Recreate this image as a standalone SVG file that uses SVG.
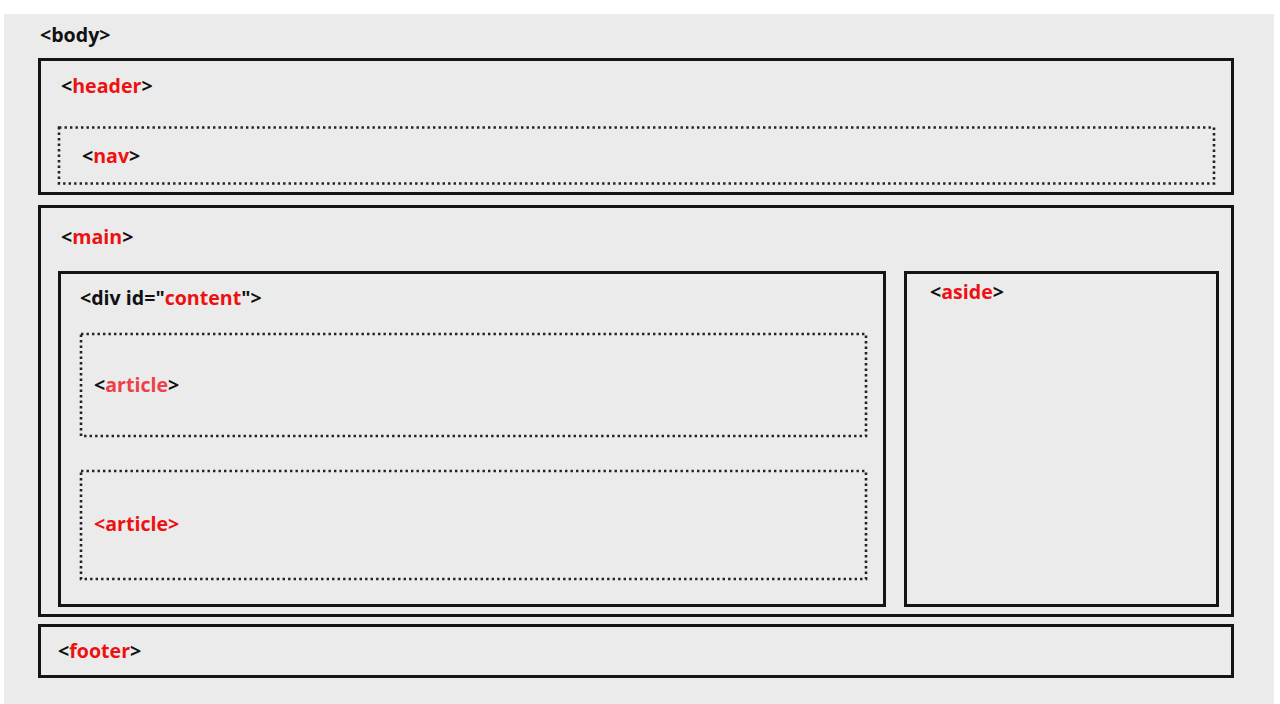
<svg xmlns="http://www.w3.org/2000/svg" width="1280" height="704" viewBox="0 0 1280 704">
  <style>
    .solid { fill: none; stroke: #141414; stroke-width: 3; }
    .dotted { fill: none; stroke: #222; stroke-width: 2.6; stroke-dasharray: 2.4 3.1; }
    .tag { font-family: "Open Sans", "Liberation Sans", sans-serif; font-weight: 700; font-size: 19.6px; fill: #111; }
    .red { fill: #ee1111; }
    .pink { fill: #ee3f4a; }
  </style>
  <rect x="0" y="0" width="1280" height="704" fill="#ffffff"/>
  <rect id="body" x="4" y="14" width="1270" height="690" fill="#ebebeb"/>
  <text class="tag" x="40" y="42">&lt;body&gt;</text>

  <g id="header">
    <rect class="solid" x="39.5" y="59.5" width="1193" height="134"/>
    <text class="tag" x="61" y="93">&lt;<tspan class="red">header</tspan>&gt;</text>
  </g>
  <g id="nav">
    <rect class="dotted" x="59" y="127.5" width="1155" height="56"/>
    <text class="tag" x="82" y="163">&lt;<tspan class="red">nav</tspan>&gt;</text>
  </g>

  <g id="main">
    <rect class="solid" x="39.5" y="206.5" width="1193" height="409"/>
    <text class="tag" x="61" y="244">&lt;<tspan class="red">main</tspan>&gt;</text>
  </g>
  <g id="content">
    <rect class="solid" x="59.5" y="272.5" width="825" height="333"/>
    <text class="tag" x="80" y="305">&lt;div id="<tspan class="red">content</tspan>"&gt;</text>
  </g>
  <g id="article1">
    <rect class="dotted" x="81" y="334" width="785" height="102"/>
    <text class="tag" x="94" y="392">&lt;<tspan class="pink">article</tspan>&gt;</text>
  </g>
  <g id="article2">
    <rect class="dotted" x="81" y="471" width="785" height="108"/>
    <text class="tag red" x="94" y="531">&lt;article&gt;</text>
  </g>
  <g id="aside">
    <rect class="solid" x="905.5" y="272.5" width="312" height="333"/>
    <text class="tag" x="930" y="299">&lt;<tspan class="red">aside</tspan>&gt;</text>
  </g>

  <g id="footer">
    <rect class="solid" x="39.5" y="625.5" width="1193" height="51"/>
    <text class="tag" x="58" y="658">&lt;<tspan class="red">footer</tspan>&gt;</text>
  </g>

  <g id="connectors"/>
</svg>
